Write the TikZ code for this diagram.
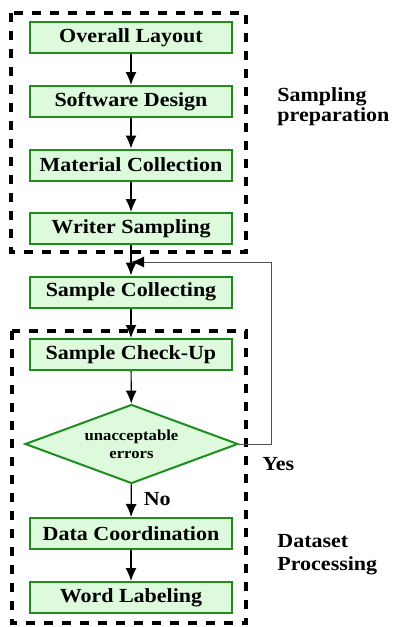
\documentclass[tikz,border=0pt]{standalone}
\usepackage{fontspec}
\setmainfont{Liberation Serif}[FakeStretch=1.1]
\usetikzlibrary{shapes.geometric,arrows.meta}
\definecolor{boxgreen}{HTML}{1E8C1E}
\definecolor{boxfill}{HTML}{DDFADD}
\definecolor{loopgray}{HTML}{505050}
\begin{document}
\begin{tikzpicture}[x=0.5pt,y=-0.5pt,
    stepbox/.style={draw=boxgreen, fill=boxfill, line width=1pt, minimum width=101pt, minimum height=15.5pt, inner sep=0pt, font=\fontsize{10}{12}\selectfont\bfseries},
    decision/.style={diamond, aspect=2.7, draw=boxgreen, fill=boxfill, line width=1pt, minimum width=106.5pt, minimum height=39.5pt, inner sep=0pt, align=center, font=\fontsize{7.6}{9}\selectfont\bfseries},
    flow/.style={-{Latex[length=6.5pt,width=5.5pt]}, line width=0.6pt},
    group/.style={dashed, line width=2pt, dash pattern=on 4.5pt off 4.5pt},
    tag/.style={font=\fontsize{10}{12}\selectfont\bfseries, inner sep=0pt}]
        \useasboundingbox (0,0) rectangle (392,627);
        % groups
        \draw [group] (11,13) rectangle (246,252);
        \draw [group] (12,331) rectangle (246,623);
        % steps
        \node [stepbox] (layout) at (131,37.5) {Overall Layout};
        \node [stepbox] (software) at (131,101.5) {Software Design};
        \node [stepbox] (material) at (131,165) {Material Collection};
        \node [stepbox] (writer) at (131,228.5) {Writer Sampling};
        \node [stepbox] (collect) at (131,292) {Sample Collecting};
        \node [stepbox] (check) at (131,354.5) {Sample Check-Up};
        \node [decision] (errors) at (131.5,444) {unacceptable\\errors};
        \node [stepbox] (coord) at (131,533.5) {Data Coordination};
        \node [stepbox] (label) at (131,597.5) {Word Labeling};
        % arrows
        \draw [flow] (layout) -- (software);
        \draw [flow] (software) -- (material);
        \draw [flow] (material) -- (writer);
        \draw [flow] (writer) -- (collect);
        \draw [flow] (collect) -- (check);
        \draw [flow] (check) -- (errors);
        \draw [flow] (errors) -- (coord) node [pos=0.45, right=6pt, tag] {No};
        \draw [flow] (coord) -- (label);
        \coordinate (back) at (131,262);
        \draw [-{Latex[length=6.5pt,width=5.5pt,black]}, draw=loopgray, line width=0.5pt] (errors.east) -| (271,262) -- (back);
        % texts
        \node [tag, anchor=north west, align=left, font=\fontsize{10}{8.5}\selectfont\bfseries] (prep) at (277,87) {Sampling\\preparation};
        \node [tag, anchor=north west] (yes) at (262,457) {Yes};
        \node [tag, anchor=north west, align=left, font=\fontsize{10}{11.5}\selectfont\bfseries] (dataset) at (277,534) {Dataset\\Processing};
\end{tikzpicture}
\end{document}
